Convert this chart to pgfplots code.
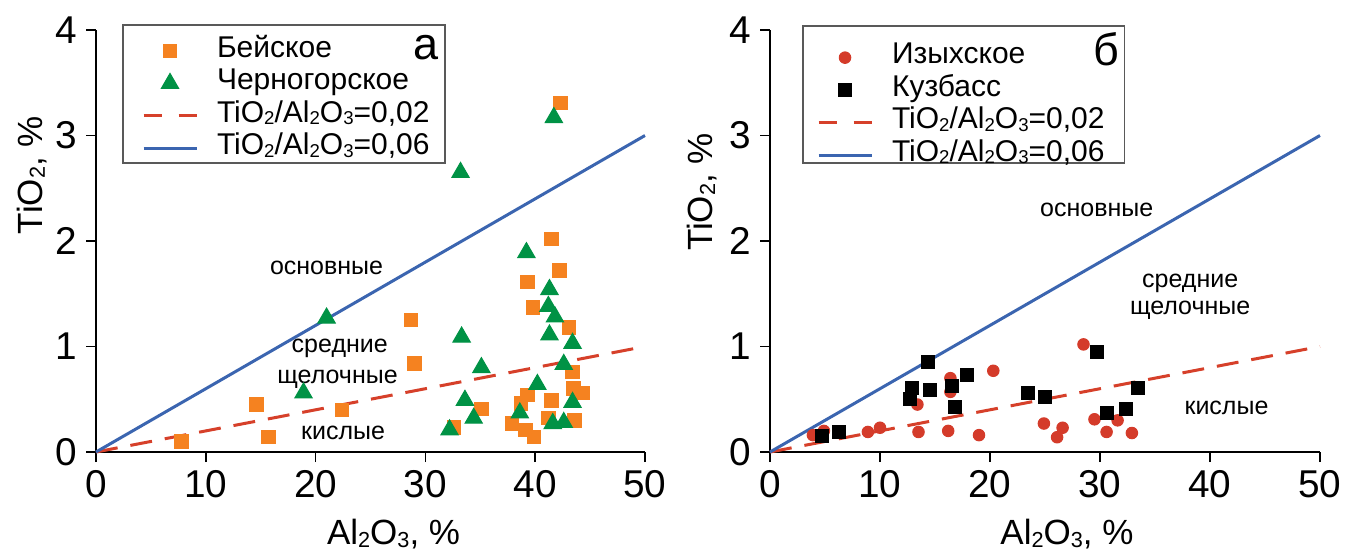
\documentclass[border=0pt]{standalone}
\usepackage{fontspec}
\setmainfont{Liberation Sans}
\usepackage{graphicx}
\usepackage{pgfplots}
\usepackage{pgfplotstable}
\pgfplotsset{compat=1.18}
\definecolor{orng}{HTML}{F58220}
\definecolor{grn}{HTML}{009245}
\definecolor{redl}{HTML}{D6402A}
\definecolor{bluel}{HTML}{3B65B0}
\definecolor{redc}{HTML}{D43B2A}
\newcommand{\sub}[1]{\raisebox{-0.08em}{\scalebox{0.62}{#1}}}

% panel a
\pgfplotstableread{
x y
7.8 0.10
14.6 0.45
15.7 0.14
22.4 0.40
28.7 1.25
29.0 0.84
32.6 0.23
35.1 0.41
37.9 0.27
38.7 0.46
39.1 0.21
39.3 0.54
39.9 0.14
39.3 1.61
39.8 1.37
41.5 2.02
42.2 1.72
43.1 1.18
43.4 0.76
43.5 0.60
44.3 0.56
43.6 0.30
41.5 0.49
41.2 0.32
42.3 3.31
}\beysk
\pgfplotstableread{
x y
18.9 0.56
21.0 1.27
33.2 2.65
41.7 3.17
33.3 1.09
35.1 0.80
33.6 0.49
34.4 0.32
32.2 0.21
39.2 1.89
41.3 1.54
41.2 1.38
41.8 1.28
41.3 1.11
43.4 1.03
42.6 0.83
40.2 0.64
43.4 0.47
38.6 0.37
41.6 0.27
42.6 0.28
}\chern
% panel b
\pgfplotstableread{
x y
3.9 0.16
4.9 0.20
8.9 0.19
10.0 0.23
13.4 0.45
13.5 0.19
16.2 0.20
16.4 0.70
16.4 0.57
19.0 0.16
20.3 0.77
24.9 0.27
26.1 0.14
26.6 0.23
28.5 1.02
29.5 0.31
30.6 0.19
31.6 0.30
32.9 0.18
}\izyh
\pgfplotstableread{
x y
4.7 0.15
6.3 0.19
12.7 0.50
12.9 0.61
14.4 0.85
14.5 0.59
16.5 0.63
16.8 0.43
17.9 0.73
23.5 0.56
25.0 0.52
29.7 0.95
33.5 0.61
32.4 0.41
30.6 0.37
}\kuzb

\tikzset{note/.style={font=\fontsize{10}{12}\selectfont, anchor=base}}

\begin{document}
\begin{tikzpicture}
\pgfplotsset{
  panel/.style={
    scale only axis, width=219.6pt, height=168.8pt,
    xmin=0, xmax=50, ymin=0, ymax=4,
    axis lines=left, axis line style={-, line width=0.6pt},
    xtick={0,10,...,50}, ytick={0,1,2,3,4},
    tick align=outside, major tick length=4pt,
    tick style={black, line width=0.6pt},
    ticklabel style={font=\fontsize{15.5}{18}\selectfont},
    /pgf/number format/assume math mode=true,
    xlabel={Al\sub{2}O\sub{3}, \%},
    ylabel={TiO\sub{2}, \%},
    label style={font=\fontsize{14}{16}\selectfont},
    clip=false,
    legend cell align=left,
    legend image code/.code={\draw[mark repeat=2,mark phase=2,##1] plot coordinates {(0pt,0pt) (10.6pt,0pt) (21.2pt,0pt)};},
    legend style={draw=none, fill=none, inner sep=0pt, outer sep=0pt,
      anchor=north west, row sep=0pt,
      font=\fontsize{12}{13}\selectfont,
      nodes={inner sep=0pt, text height=9pt, text depth=4pt},
      /tikz/every odd column/.append style={column sep=7.6pt}},
  },
}

\begin{axis}[panel, at={(38.4pt,39.6pt)}, anchor=south west,
  xlabel style={at={(rel axis cs:0.542,-0.220)}, anchor=base},
  ylabel style={at={(rel axis cs:-0.098,0.656)}, anchor=base},
  legend style={at={(rel axis cs:0.0838,0.989)}},
  legend entries={Бейское, Черногорское,
    TiO\sub{2}/Al\sub{2}O\sub{3}=0\hbox{,}02,
    TiO\sub{2}/Al\sub{2}O\sub{3}=0\hbox{,}06}]
  \addlegendimage{only marks, mark=square*, mark size=2.7pt, orng}
  \addlegendimage{only marks, mark=triangle*, mark size=4pt, grn}
  \addlegendimage{redl, line width=1.2pt, dash pattern=on 7.2pt off 6.8pt}
  \addlegendimage{bluel, line width=1.2pt}
  \draw[line width=0.6pt, black!65] (rel axis cs:0.049,1.012) rectangle (rel axis cs:0.636,0.685);
  \addplot[forget plot, redl, line width=1.2pt, dash pattern=on 8.8pt off 5.2pt] coordinates {(0,0) (50,1)};
  \addplot[forget plot, bluel, line width=1.2pt] coordinates {(0,0) (50,3)};
  \addplot[forget plot, only marks, mark=square*, mark size=2.7pt, orng] table {\beysk};
  \addplot[forget plot, only marks, mark=triangle*, mark size=4pt, grn] table {\chern};
  \node[note] at (axis cs:21.0,1.68) {основные};
  \node[note] at (axis cs:22.2,0.94) {средние};
  \node[note] at (axis cs:22.0,0.654) {щелочные};
  \node[note] at (axis cs:22.5,0.114) {кислые};
  \node[font=\fontsize{18}{20}\selectfont, anchor=base west, inner sep=0pt] at (rel axis cs:0.577,0.929) {а};
\end{axis}

\begin{axis}[panel, at={(308pt,39.6pt)}, anchor=south west, width=220pt,
  xlabel style={at={(rel axis cs:0.54,-0.220)}, anchor=base},
  ylabel style={at={(rel axis cs:-0.105,0.616)}, anchor=base},
  legend style={at={(rel axis cs:0.0855,0.973)}},
  legend entries={Изыхское, Кузбасс,
    TiO\sub{2}/Al\sub{2}O\sub{3}=0\hbox{,}02,
    TiO\sub{2}/Al\sub{2}O\sub{3}=0\hbox{,}06}]
  \addlegendimage{only marks, mark=*, mark size=2.3pt, redc}
  \addlegendimage{only marks, mark=square*, mark size=2.6pt, black}
  \addlegendimage{redl, line width=1.2pt, dash pattern=on 7.2pt off 6.8pt}
  \addlegendimage{bluel, line width=1.2pt}
  \draw[line width=0.6pt, black!65] (rel axis cs:0.06,1.009) rectangle (rel axis cs:0.645,0.685);
  \addplot[forget plot, redl, line width=1.2pt, dash pattern=on 8.8pt off 5.2pt] coordinates {(0,0) (50,1)};
  \addplot[forget plot, bluel, line width=1.2pt] coordinates {(0,0) (50,3)};
  \addplot[forget plot, only marks, mark=*, mark size=2.3pt, redc] table {\izyh};
  \addplot[forget plot, only marks, mark=square*, mark size=2.6pt, black] table {\kuzb};
  \node[note] at (axis cs:29.7,2.23) {основные};
  \node[note] at (axis cs:38.2,1.56) {средние};
  \node[note] at (axis cs:38.2,1.30) {щелочные};
  \node[note] at (axis cs:41.5,0.36) {кислые};
  \node[font=\fontsize{18}{20}\selectfont, anchor=base west, inner sep=0pt] at (rel axis cs:0.587,0.917) {б};
\end{axis}
\pgfresetboundingbox
\path (0,0) rectangle (541.6pt,220.4pt);
\end{tikzpicture}
\end{document}
